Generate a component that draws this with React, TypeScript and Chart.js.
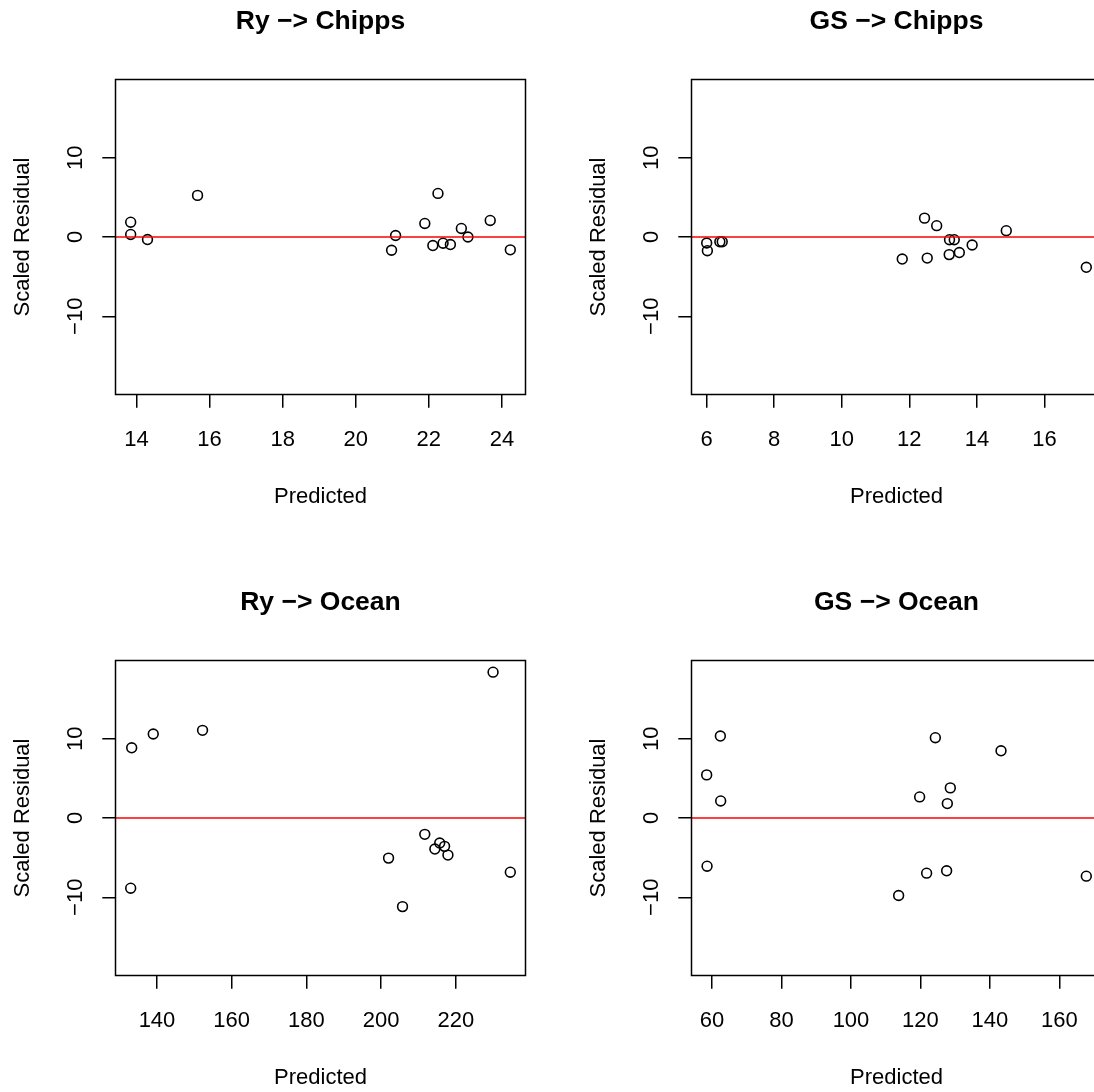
import React, { useEffect, useRef } from 'react';
import { Chart, registerables } from 'chart.js';

Chart.register(...registerables);

// ---- Data ----
const RY_CHIPPS_PREDICTED = [13.84, 13.84, 14.30, 15.67, 20.98, 21.09, 21.89, 22.25, 22.11, 22.39, 22.59, 22.89, 23.07, 23.68, 24.23];
const RY_CHIPPS_RESIDUAL = [1.87, 0.32, -0.32, 5.25, -1.67, 0.19, 1.71, 5.5, -1.08, -0.78, -0.95, 1.08, 0.0, 2.09, -1.62];

const GS_CHIPPS_PREDICTED = [6.0, 6.02, 6.39, 6.46, 11.79, 12.45, 12.53, 12.81, 13.19, 13.33, 13.18, 13.48, 13.86, 14.87, 17.24];
const GS_CHIPPS_RESIDUAL = [-0.76, -1.73, -0.6, -0.6, -2.78, 2.38, -2.66, 1.43, -0.34, -0.34, -2.22, -1.96, -1.01, 0.8, -3.82];

const RY_OCEAN_PREDICTED = [133.23, 139.0, 152.2, 132.96, 229.98, 202.0, 205.74, 211.7, 214.4, 215.7, 217.0, 217.9, 234.6];
const RY_OCEAN_RESIDUAL = [8.86, 10.6, 11.06, -8.86, 18.4, -5.06, -11.18, -2.06, -3.92, -3.16, -3.58, -4.68, -6.84];

const GS_OCEAN_PREDICTED = [62.39, 58.45, 62.48, 58.56, 124.29, 143.2, 119.77, 128.6, 127.74, 113.72, 121.78, 127.54, 167.76];
const GS_OCEAN_RESIDUAL = [10.34, 5.44, 2.15, -6.08, 10.13, 8.48, 2.66, 3.8, 1.82, -9.78, -6.96, -6.66, -7.34];

const TITLES = ['Ry −> Chipps', 'GS −> Chipps', 'Ry −> Ocean', 'GS −> Ocean'];
const X_TICK_STEPS = [2, 2, 20, 20];
const Y_TICK_STEP = 10;
const REFERENCE_LINE = 0;
const X_LABEL = 'Predicted';
const Y_LABEL = 'Scaled Residual';

const ALL_RESIDUALS = [...RY_CHIPPS_RESIDUAL, ...GS_CHIPPS_RESIDUAL, ...RY_OCEAN_RESIDUAL, ...GS_OCEAN_RESIDUAL];
const Y_LIMIT = Math.max(...ALL_RESIDUALS.map((v) => Math.abs(v))) * 1.08;

// ---- Layout / style ----
const FONT = "'Liberation Sans', Arial, Helvetica, sans-serif";
const CANVAS_W = 575;
const CANVAS_H = 581;
const LINE_W = 1.5;
const PANEL_POS = [
  { left: 0, top: 0 },
  { left: 576, top: 0 },
  { left: 0, top: 581 },
  { left: 576, top: 581 },
];

const boxPlugin = {
  id: 'rbox',
  afterDraw(chart: any) {
    const { ctx, chartArea } = chart;
    ctx.save();
    ctx.strokeStyle = '#000';
    ctx.lineWidth = LINE_W;
    ctx.strokeRect(chartArea.left, chartArea.top, chartArea.right - chartArea.left, chartArea.bottom - chartArea.top);
    ctx.restore();
  },
};

function Panel({ title, xs, ys, step, left, top }: { title: string; xs: number[]; ys: number[]; step: number; left: number; top: number }) {
  const ref = useRef<HTMLCanvasElement | null>(null);
  useEffect(() => {
    if (!ref.current) return;
    const xMinData = Math.min(...xs);
    const xMaxData = Math.max(...xs);
    const pad = (xMaxData - xMinData) * 0.04;
    const xMin = xMinData - pad;
    const xMax = xMaxData + pad;
    const chart = new Chart(ref.current, {
      type: 'scatter',
      data: {
        datasets: [
          {
            type: 'line',
            data: [
              { x: xMin, y: REFERENCE_LINE },
              { x: xMax, y: REFERENCE_LINE },
            ],
            borderColor: '#ff0000',
            borderWidth: LINE_W,
            pointRadius: 0,
            fill: false,
          } as any,
          {
            data: xs.map((x, i) => ({ x, y: ys[i] })),
            pointStyle: 'circle',
            pointRadius: 4.9,
            pointBorderWidth: 1.6,
            pointBorderColor: '#000',
            pointBackgroundColor: 'rgba(0,0,0,0)',
            borderColor: '#000',
            backgroundColor: 'rgba(0,0,0,0)',
            showLine: false,
          } as any,
        ],
      },
      options: {
        responsive: false,
        animation: false,
        devicePixelRatio: 1,
        layout: { padding: { left: 0, top: 0, right: 49.5, bottom: 0 } },
        plugins: {
          legend: { display: false },
          tooltip: { enabled: false },
          title: {
            display: true,
            text: title,
            color: '#000',
            fullSize: false,
            font: { family: FONT, size: 26.5, weight: 'bold' },
            padding: { top: 5.6, bottom: 42.1 },
          },
        },
        scales: {
          x: {
            type: 'linear',
            position: 'bottom',
            min: xMin,
            max: xMax,
            afterFit: (s: any) => {
              s.height = 186.5;
            },
            border: { display: false },
            grid: { display: true, drawOnChartArea: false, drawTicks: true, tickLength: 13.2, color: '#000', lineWidth: LINE_W },
            ticks: {
              stepSize: step,
              includeBounds: false,
              color: '#000',
              font: { family: FONT, size: 22 },
              padding: 18.9,
              maxRotation: 0,
              minRotation: 0,
              autoSkip: false,
              callback: (v: any) => String(v).replace('-', '\u2212'),
            },
            title: {
              display: true,
              text: X_LABEL,
              color: '#000',
              font: { family: FONT, size: 22 },
              padding: { top: 0, bottom: 70.8 },
            },
          },
          y: {
            type: 'linear',
            position: 'left',
            min: -Y_LIMIT,
            max: Y_LIMIT,
            afterFit: (s: any) => {
              s.width = 115.5;
            },
            border: { display: false },
            grid: { display: true, drawOnChartArea: false, drawTicks: true, tickLength: 13.2, color: '#000', lineWidth: LINE_W },
            ticks: {
              stepSize: Y_TICK_STEP,
              includeBounds: false,
              color: '#000',
              font: { family: FONT, size: 22 },
              padding: 7.9,
              minRotation: 90,
              maxRotation: 90,
              crossAlign: 'center',
              autoSkip: false,
              callback: (v: any) => String(v).replace('-', '\u2212'),
            },
            title: {
              display: true,
              text: Y_LABEL,
              color: '#000',
              font: { family: FONT, size: 22 },
              padding: { top: 9.8, bottom: 0 },
            },
          },
        },
      } as any,
      plugins: [boxPlugin],
    });
    return () => chart.destroy();
  }, [title, xs, ys, step]);

  return (
    <canvas
      ref={ref}
      width={CANVAS_W}
      height={CANVAS_H}
      style={{ position: 'absolute', left, top, width: CANVAS_W, height: CANVAS_H }}
    />
  );
}

export default function App() {
  const series = [
    [RY_CHIPPS_PREDICTED, RY_CHIPPS_RESIDUAL],
    [GS_CHIPPS_PREDICTED, GS_CHIPPS_RESIDUAL],
    [RY_OCEAN_PREDICTED, RY_OCEAN_RESIDUAL],
    [GS_OCEAN_PREDICTED, GS_OCEAN_RESIDUAL],
  ];
  return (
    <div
      style={{
        position: 'fixed',
        left: 0,
        top: 0,
        width: 1094,
        height: 1092,
        overflow: 'hidden',
        background: '#fff',
      }}
    >
      {series.map(([xs, ys], i) => (
        <Panel
          key={i}
          title={TITLES[i]}
          xs={xs}
          ys={ys}
          step={X_TICK_STEPS[i]}
          left={PANEL_POS[i].left}
          top={PANEL_POS[i].top}
        />
      ))}
    </div>
  );
}
